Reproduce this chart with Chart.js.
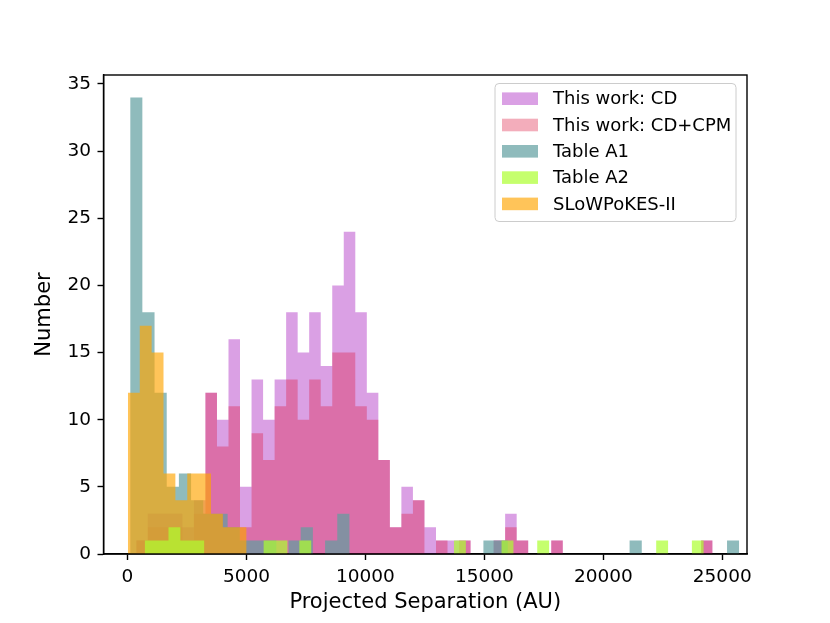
<!DOCTYPE html>
<html>
<head>
<meta charset="utf-8">
<title>Projected separation histogram</title>
<script src="https://cdn.jsdelivr.net/npm/chart.js@4/dist/chart.umd.min.js"></script>
<style>
  body { margin: 0; background: #fff; }
  canvas { display: block; }
</style>
</head>
<body>
<canvas id="sep_hist" width="830" height="623"></canvas>
<script>
// bin edges (AU) and counts per sample
var cdBinStart = 370;
var cdBinWidth = 484.5;
var cdCounts = [1, 3, 3, 3, 2, 4, 12, 10, 16, 5, 13, 10, 13, 18, 15, 18, 14, 20, 24, 18,
  12, 7, 2, 5, 4, 2, 1, 1, 1, 0, 0, 1, 3, 1, 0, 0, 1, 0, 0, 0,
  0, 0, 0, 0, 0, 0, 0, 0, 0, 1];
var cpmCounts = [1, 2, 2, 2, 1, 3, 12, 8, 11, 2, 9, 7, 11, 13, 10, 13, 11, 15, 15, 11,
  10, 7, 2, 3, 4, 0, 1, 0, 1, 0, 0, 1, 2, 1, 0, 0, 1, 0, 0, 0,
  0, 0, 0, 0, 0, 0, 0, 0, 0, 1];

var tableA1BinStart = 113;
var tableA1BinWidth = 512;
var tableA1Counts = [34, 18, 12, 5, 6, 4, 3, 3, 2, 1, 1, 1, 0, 1, 2, 0, 1, 3, 0, 0,
  0, 0, 0, 0, 0, 0, 0, 0, 0, 1, 1, 0, 0, 0, 0, 0, 0, 0, 0, 0,
  0, 1, 0, 0, 0, 0, 0, 0, 0, 1];

var tableA2BinStart = 723;
var tableA2BinWidth = 500;
var tableA2Counts = [1, 1, 2, 1, 1, 0, 0, 0, 0, 0, 1, 1, 0, 1, 0, 0, 0, 0, 0, 0,
  0, 0, 0, 0, 0, 0, 1, 0, 0, 0, 1, 0, 0, 1, 0, 0, 0, 0, 0, 0,
  0, 0, 0, 1, 0, 0, 1];

var slowpokesBinStart = 17;
var slowpokesBinWidth = 499;
var slowpokesCounts = [12, 17, 15, 6, 4, 6, 6, 3, 2, 2];

var xTicks = [0, 5000, 10000, 15000, 20000, 25000];
var yTicks = [0, 5, 10, 15, 20, 25, 30, 35];

// colours
var cdColor = "rgba(181, 65, 201, 0.5)";
var cpmColor = "rgba(220, 20, 60, 0.35)";
var a1Color = "rgba(95, 158, 160, 0.7)";
var a2Color = "rgba(173, 255, 47, 0.7)";
var slowColor = "rgba(255, 165, 0, 0.65)";

var fontFamily = "'DejaVu Sans', 'Liberation Sans', sans-serif";

// turn bin start/width + counts into step points for a filled line
function histStep(binStart, binWidth, counts) {
  var pts = counts.map((c, i) => ({ x: binStart + i * binWidth, y: c }));
  pts.push({ x: binStart + counts.length * binWidth, y: 0 });
  return pts;
}

function histDataset(label, pts, color, order) {
  return {
    label: label,
    data: pts,
    stepped: "before",
    fill: "origin",
    backgroundColor: color,
    borderColor: "rgba(0,0,0,0)",
    borderWidth: 0,
    pointRadius: 0,
    order: order,
  };
}

var legendItems = [
  ["This work: CD", cdColor],
  ["This work: CD+CPM", cpmColor],
  ["Table A1", a1Color],
  ["Table A2", a2Color],
  ["SLoWPoKES-II", slowColor],
];

// axes frame + legend box inside the top right corner
const frameAndLegend = {
  id: "frameAndLegend",
  afterDatasetsDraw(chart) {
    const ctx = chart.ctx;
    const a = chart.chartArea;
    ctx.save();
    ctx.strokeStyle = "#000";
    ctx.lineWidth = 1.4;
    ctx.strokeRect(a.left, a.top, a.right - a.left, a.bottom - a.top);

    var bx = 495, by = 83.5, bw = 241, bh = 138, r = 4;
    ctx.beginPath();
    ctx.moveTo(bx + r, by);
    ctx.arcTo(bx + bw, by, bx + bw, by + bh, r);
    ctx.arcTo(bx + bw, by + bh, bx, by + bh, r);
    ctx.arcTo(bx, by + bh, bx, by, r);
    ctx.arcTo(bx, by, bx + bw, by, r);
    ctx.closePath();
    ctx.fillStyle = "rgba(255,255,255,0.8)";
    ctx.fill();
    ctx.strokeStyle = "#cccccc";
    ctx.lineWidth = 1;
    ctx.stroke();

    ctx.font = "18px " + fontFamily;
    ctx.textBaseline = "middle";
    ctx.textAlign = "left";
    legendItems.forEach((item, i) => {
      var cy = 98.7 + i * 26.3;
      ctx.fillStyle = item[1];
      ctx.fillRect(502, cy - 6.3, 36, 12.6);
      ctx.fillStyle = "#000";
      ctx.fillText(item[0], 553, cy + 1);
    });
    ctx.restore();
  },
};

const ctx = document.getElementById("sep_hist").getContext("2d");
new Chart(ctx, {
  type: "line",
  data: {
    datasets: [
      histDataset("This work: CD", histStep(cdBinStart, cdBinWidth, cdCounts), cdColor, 5),
      histDataset("This work: CD+CPM", histStep(cdBinStart, cdBinWidth, cpmCounts), cpmColor, 4),
      histDataset("Table A1", histStep(tableA1BinStart, tableA1BinWidth, tableA1Counts), a1Color, 3),
      histDataset("Table A2", histStep(tableA2BinStart, tableA2BinWidth, tableA2Counts), a2Color, 1),
      histDataset("SLoWPoKES-II", histStep(slowpokesBinStart, slowpokesBinWidth, slowpokesCounts), slowColor, 2),
    ],
  },
  options: {
    responsive: false,
    animation: false,
    devicePixelRatio: 1,
    layout: { padding: { top: 75, right: 83, left: 0, bottom: 0 } },
    plugins: {
      legend: { display: false },
      tooltip: { enabled: false },
    },
    scales: {
      x: {
        type: "linear",
        min: -1008,
        max: 26040,
        afterBuildTicks: (axis) => {
          axis.ticks = xTicks.map((v) => ({ value: v }));
        },
        afterFit: (axis) => {
          axis.height = 69;
        },
        grid: {
          drawOnChartArea: false,
          drawTicks: true,
          tickLength: 6,
          tickWidth: 1.4,
          tickColor: "#000",
        },
        border: { display: true, color: "#000", width: 1.4 },
        ticks: {
          color: "#000",
          padding: 6,
          maxRotation: 0,
          autoSkip: false,
          font: { family: fontFamily, size: 18.5 },
          callback: (v) => String(v),
        },
        title: {
          display: true,
          text: "Projected Separation (AU)",
          color: "#000",
          font: { family: fontFamily, size: 21 },
          padding: { top: 0, bottom: 7.4 },
        },
      },
      y: {
        type: "linear",
        min: 0,
        max: 35.67,
        afterBuildTicks: (axis) => {
          axis.ticks = yTicks.map((v) => ({ value: v }));
        },
        afterFit: (axis) => {
          axis.width = 103.5;
        },
        grid: {
          drawOnChartArea: false,
          drawTicks: true,
          tickLength: 6,
          tickWidth: 1.4,
          tickColor: "#000",
        },
        border: { display: true, color: "#000", width: 1.4 },
        ticks: {
          color: "#000",
          padding: 6.5,
          font: { family: fontFamily, size: 18.5 },
          callback: (v) => String(v),
        },
        title: {
          display: true,
          text: "Number",
          color: "#000",
          font: { family: fontFamily, size: 21 },
          padding: { top: 32, bottom: 0 },
        },
      },
    },
  },
  plugins: [frameAndLegend],
});
</script>
</body>
</html>
